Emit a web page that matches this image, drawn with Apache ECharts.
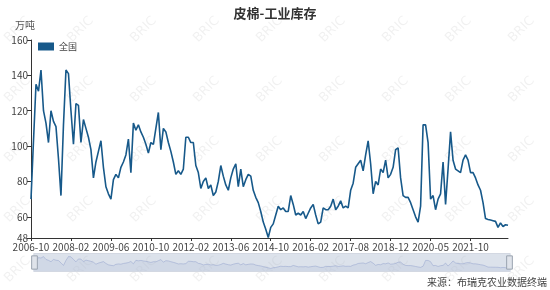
<!DOCTYPE html>
<html>
<head>
<meta charset="utf-8">
<script src="https://cdn.jsdelivr.net/npm/echarts@6/dist/echarts.min.js"></script>
<style>
html,body{margin:0;padding:0;background:#fff;}
#c{width:550px;height:290px;}
</style>
</head>
<body>
<div id="c"></div>
<script>
var titleText = '皮棉-工业库存';
var seriesName = '全国';
var unitName = '万吨';
var sourceText = '来源：布瑞克农业数据终端';

var categories = [
'2006-10','2006-11','2006-12',
'2007-01','2007-02','2007-03','2007-04','2007-05','2007-06','2007-07','2007-08','2007-09','2007-10','2007-11','2007-12',
'2008-01','2008-02','2008-03','2008-04','2008-05','2008-06','2008-07','2008-08','2008-09','2008-10','2008-11','2008-12',
'2009-01','2009-02','2009-03','2009-04','2009-05','2009-06','2009-07','2009-08','2009-09','2009-10','2009-11','2009-12',
'2010-01','2010-02','2010-03','2010-04','2010-05','2010-06','2010-07','2010-08','2010-09','2010-10','2010-11','2010-12',
'2011-01','2011-02','2011-03','2011-04','2011-05','2011-06','2011-07','2011-08','2011-09','2011-10','2011-11','2011-12',
'2012-01','2012-02','2012-03','2012-04','2012-05','2012-06','2012-07','2012-08','2012-09','2012-10','2012-11','2012-12',
'2013-01','2013-02','2013-03','2013-04','2013-05','2013-06','2013-07','2013-08','2013-09','2013-10','2013-11','2013-12',
'2014-01','2014-02','2014-03','2014-04','2014-05','2014-06','2014-07','2014-08','2014-09','2014-10','2014-11','2014-12',
'2015-01','2015-02','2015-03','2015-04','2015-05','2015-06','2015-07','2015-08','2015-09','2015-10','2015-11','2015-12',
'2016-01','2016-02','2016-03','2016-04','2016-05','2016-06','2016-07','2016-08','2016-09','2016-10','2016-11','2016-12',
'2017-03','2017-04','2017-05','2017-06','2017-07','2017-08','2017-09','2017-10','2017-11','2017-12',
'2018-01','2018-02','2018-03','2018-04','2018-05','2018-06','2018-07','2018-08','2018-09','2018-10','2018-11','2018-12',
'2019-01','2019-02','2019-03','2019-04','2019-05','2019-06','2019-07','2019-08','2019-09','2019-10','2019-11','2019-12',
'2020-02','2020-03','2020-04','2020-05','2020-06','2020-07','2020-08','2020-09','2020-10','2020-11','2020-12',
'2021-02','2021-03','2021-04','2021-05','2021-06','2021-07','2021-08','2021-09','2021-10','2021-11','2021-12',
'2022-01','2022-02','2022-03','2022-04','2022-05','2022-06','2022-07','2022-08','2022-09','2022-10','2022-11','2022-12',
'2023-01'
];

var values = [
70,103,135,131,143,120,113,102,120,114,111,93,72,112,143,141,
120,101,124,123,102,115,110,105,98,82,91,97,103,88,77,73,
70,81,84,82,88,91,95,104,85,113,109,112,108,105,101,96,
102,101,110,119,98,110,108,102,97,91,84,86,84,87,105,105,
102,102,89,85,76,80,82,76,78,72,74,80,89,83,78,75,
82,87,90,77,87,77,81,84,83,75,71,68,63,57,53,48.3,
54,56,61,66,64,65,63,63,72,67,61,62,61,63,59,62,
65,67,61,56,57,65,64,64,66,70,64,66,69,65,66,65,
75,79,88,90,92,86,95,103,90,73,80,78,87,85,92,82,
84,88,98,99,82,72,71,71,68,64,60,57,66,112,112,102,
70,72,64,70,73,91,67,87,108,92,87,86,85,92,95,92,
85,85,82,78,75,68,59,58.5,58.2,57.8,57.4,54,56.5,54.5,55.5,55.2
];

var yTicks = [48, 60, 80, 100, 120, 140, 160];

var lineColor = '#17598a';

var wm = [];
for (var r = 0; r < 5; r++) {
  for (var c = 0; c < 9; c++) {
    wm.push({
      type: 'text', left: 2 + c * 63, top: 14 + r * 60, rotation: Math.PI / 4, z: -10, silent: true,
      style: { text: 'BRIC', fill: 'rgba(0,0,0,0.06)', font: '13px "DejaVu Sans", sans-serif' }
    });
  }
}
wm.push({
  type: 'text', right: 3, top: 277,
  style: { text: sourceText, fill: '#444', font: '10px "Noto Sans CJK SC", sans-serif', textAlign: 'right' }
});

var chart = echarts.init(document.getElementById('c'), null, { renderer: 'canvas' });
chart.setOption({
  animation: false,
  backgroundColor: '#fff',
  textStyle: { fontFamily: '"Noto Sans CJK SC", sans-serif' },
  title: {
    text: titleText, left: 'center', top: 2,
    textStyle: { fontSize: 13, fontWeight: 'bold', color: '#333', fontFamily: '"Noto Sans CJK SC", sans-serif' }
  },
  legend: {
    data: [seriesName], left: 33, top: 37, itemWidth: 16, itemHeight: 8, itemGap: 5,
    icon: 'rect',
    textStyle: { fontSize: 9, color: '#444' }
  },
  graphic: wm,
  grid: { left: 31, right: 42, top: 40, bottom: 52, containLabel: false },
  xAxis: {
    type: 'category', data: categories, boundaryGap: false,
    axisLine: { lineStyle: { color: '#333' } },
    axisTick: { show: true, interval: 15, length: 3 },
    axisLabel: { interval: 15, fontSize: 10, color: '#444', margin: 4 },
    splitLine: { show: false }
  },
  yAxis: {
    type: 'value', min: 48, max: 160,
    name: unitName, nameGap: 10,
    nameTextStyle: { fontSize: 10, color: '#555', align: 'right', padding: [0, -4, 0, 0] },
    axisLine: { show: true, lineStyle: { color: '#333' } },
    axisTick: { show: true, length: 4, customValues: yTicks },
    axisLabel: { fontSize: 10, color: '#444', margin: 3, customValues: yTicks },
    splitLine: { show: false }
  },
  dataZoom: [{
    type: 'slider', start: 0, end: 100, left: 31, right: 42, top: 253, height: 19,
    showDetail: false, brushSelect: false, moveHandleSize: 0,
    backgroundColor: 'rgba(0,0,0,0)',
    borderColor: '#d3d8e2',
    fillerColor: 'rgba(167,183,204,0.4)',
    handleIcon: 'path://M-3,-7h6v14h-6z',
    handleSize: '70%',
    handleStyle: { color: '#dfe3ea', borderColor: '#9aa3b0' },
    dataBackground: {
      lineStyle: { color: '#b7bfcb', width: 0.6 },
      areaStyle: { color: '#c3cad6', opacity: 0.6 }
    }
  }],
  series: [{
    name: seriesName, type: 'line', data: values, showSymbol: false, symbol: 'none',
    lineStyle: { color: lineColor, width: 1.6 }, itemStyle: { color: lineColor }
  }]
});
</script>
</body>
</html>
